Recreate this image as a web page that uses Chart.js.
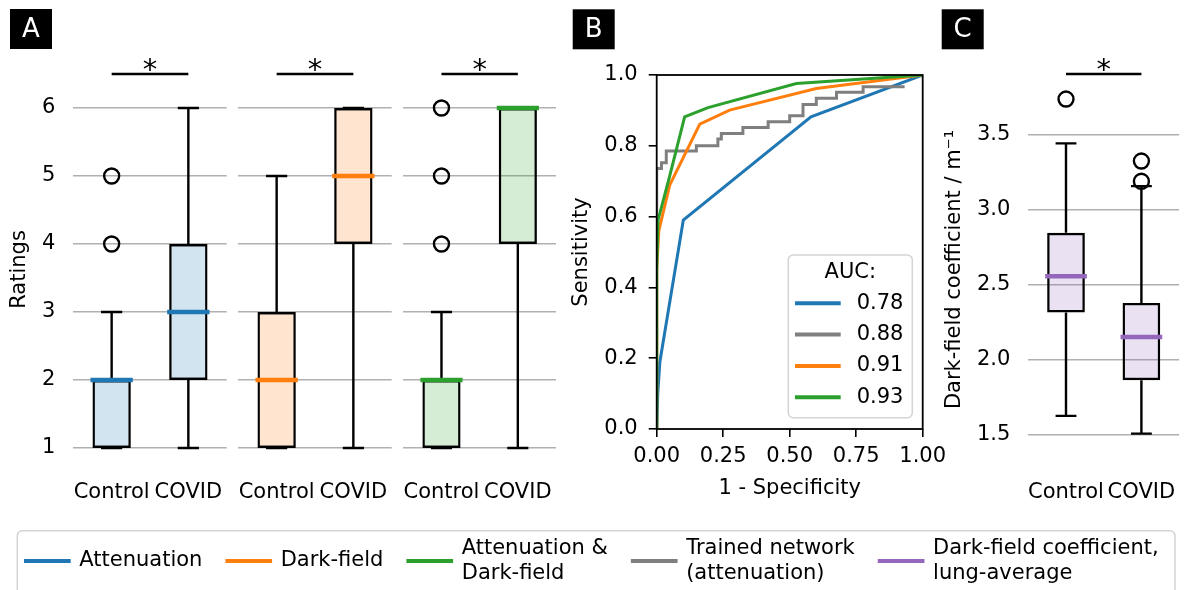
<!DOCTYPE html>
<html>
<head>
<meta charset="utf-8">
<script src="https://cdn.jsdelivr.net/npm/chart.js@4.4.1/dist/chart.umd.min.js"></script>
<style>
  html, body { margin: 0; padding: 0; background: #fff; }
  #wrap { position: relative; width: 1189px; height: 590px; overflow: hidden; }
  #wrap canvas { position: absolute; left: 0; top: 0; }
</style>
</head>
<body>
<div id="wrap">
  <canvas id="a1" width="1189" height="590"></canvas>
  <canvas id="a2" width="1189" height="590"></canvas>
  <canvas id="a3" width="1189" height="590"></canvas>
  <canvas id="roc" width="1189" height="590"></canvas>
  <canvas id="coef" width="1189" height="590"></canvas>
</div>
<script>
const groups = ['Control', 'COVID'];
const ratingTicks = [1, 2, 3, 4, 5, 6];
const sigLabel = '*';

// ratings (panel A), per group [Control, COVID]
const attQ1 = [1, 2], attMed = [2, 3], attQ3 = [2, 4], attLo = [1, 1], attHi = [3, 6];
const attOut = [[4, 5], []];
const dfQ1 = [1, 4], dfMed = [2, 5], dfQ3 = [3, 6], dfLo = [1, 1], dfHi = [5, 6];
const dfOut = [[], []];
const bothQ1 = [1, 4], bothMed = [2, 6], bothQ3 = [2, 6], bothLo = [1, 1], bothHi = [3, 6];
const bothOut = [[4, 5, 6], []];

// dark-field coefficient (panel C)
const coefTicks = [1.5, 2.0, 2.5, 3.0, 3.5];
const coefQ1 = [2.316, 1.865], coefMed = [2.558, 2.153], coefQ3 = [2.847, 2.38];
const coefLo = [1.627, 1.509], coefHi = [3.443, 3.158];
const coefOut = [[3.738], [3.19, 3.325]];

// ROC curves (panel B)
const rocTicksX = [0, 0.25, 0.5, 0.75, 1];
const rocTicksY = [0, 0.2, 0.4, 0.6, 0.8, 1];
const attFpr = [0, 0.004, 0.012, 0.1, 0.58, 1];
const attTpr = [0, 0.1, 0.19, 0.59, 0.882, 1];
const netFpr = [0, 0, 0.018, 0.036, 0.149, 0.23, 0.243, 0.324, 0.419, 0.5, 0.55, 0.6, 0.676, 0.776, 0.932];
const netTpr = [0, 0.736, 0.752, 0.785, 0.8, 0.819, 0.835, 0.852, 0.868, 0.885, 0.917, 0.934, 0.951, 0.967, 0.967];
const dfFpr = [0, 0, 0.008, 0.049, 0.162, 0.274, 0.6, 1];
const dfTpr = [0, 0.45, 0.56, 0.689, 0.861, 0.901, 0.962, 1];
const bothFpr = [0, 0, 0.005, 0.049, 0.105, 0.193, 0.525, 1];
const bothTpr = [0, 0.45, 0.59, 0.715, 0.882, 0.908, 0.976, 1];
const aucLabels = ['0.78', '0.88', '0.91', '0.93'];

const legendLabels = [
  ['Attenuation'], ['Dark-field'], ['Attenuation &', 'Dark-field'],
  ['Trained network', '(attenuation)'], ['Dark-field coefficient,', 'lung-average']
];

const BLUE = '#1f77b4', ORANGE = '#ff7f0e', GREEN = '#2ca02c', GRAY = '#7f7f7f', PURPLE = '#9467bd';
const legendColors = [BLUE, ORANGE, GREEN, GRAY, PURPLE];
const FONT = '"DejaVu Sans", sans-serif';
const W = 1189, H = 590;
const LW = 2.4;

Chart.defaults.font.family = FONT;
Chart.defaults.font.size = 21;
Chart.defaults.color = '#000';
Chart.defaults.animation = false;
Chart.defaults.plugins.legend.display = false;
Chart.defaults.plugins.tooltip.enabled = false;

function tag(letter, x, y) {
  return {
    id: 'tag' + letter,
    afterDraw(chart) {
      const ctx = chart.ctx;
      ctx.save();
      ctx.fillStyle = '#000';
      ctx.fillRect(x, y, 42, 40);
      ctx.fillStyle = '#fff';
      ctx.font = '26px ' + FONT;
      ctx.textAlign = 'center';
      ctx.textBaseline = 'middle';
      ctx.fillText(letter, x + 21, y + 21);
      ctx.restore();
    }
  };
}

// whiskers, caps and medians on top of the floating-bar boxes
function boxParts(s) {
  return {
    id: 'boxParts',
    afterDatasetsDraw(chart) {
      const ctx = chart.ctx;
      const y = chart.scales.y;
      ctx.save();
      chart.getDatasetMeta(0).data.forEach((bar, i) => {
        const x = bar.x, w = bar.width;
        ctx.strokeStyle = '#000';
        ctx.lineWidth = LW;
        ctx.beginPath();
        ctx.moveTo(x, y.getPixelForValue(s.q1[i]));
        ctx.lineTo(x, y.getPixelForValue(s.lo[i]));
        ctx.moveTo(x, y.getPixelForValue(s.q3[i]));
        ctx.lineTo(x, y.getPixelForValue(s.hi[i]));
        [s.lo[i], s.hi[i]].forEach(v => {
          const py = y.getPixelForValue(v);
          ctx.moveTo(x - w / 4 - 1, py);
          ctx.lineTo(x + w / 4 + 1, py);
        });
        ctx.stroke();
        ctx.strokeStyle = s.color;
        ctx.lineWidth = 4.5;
        ctx.beginPath();
        const pm = y.getPixelForValue(s.med[i]);
        ctx.moveTo(x - w / 2 - 2, pm);
        ctx.lineTo(x + w / 2 + 2, pm);
        ctx.stroke();
      });
      ctx.restore();
    }
  };
}

const sigBar = {
  id: 'sigBar',
  afterDraw(chart) {
    const ctx = chart.ctx;
    const x = chart.scales.x;
    const x0 = x.getPixelForValue(0), x1 = x.getPixelForValue(1);
    const yb = chart.chartArea.top;
    ctx.save();
    ctx.strokeStyle = '#000';
    ctx.lineWidth = 2.5;
    ctx.beginPath();
    ctx.moveTo(x0, yb);
    ctx.lineTo(x1, yb);
    ctx.stroke();
    ctx.fillStyle = '#000';
    ctx.font = '29px ' + FONT;
    ctx.textAlign = 'center';
    ctx.textBaseline = 'alphabetic';
    ctx.fillText(sigLabel, (x0 + x1) / 2, yb + 5);
    ctx.restore();
  }
};

function boxChart(id, area, s, extra) {
  const xh = 45;
  return new Chart(document.getElementById(id), {
    type: 'bar',
    data: {
      labels: groups,
      datasets: [
        {
          data: groups.map((g, i) => [s.q1[i], s.q3[i]]),
          backgroundColor: s.fill, borderColor: '#000', borderWidth: LW, borderSkipped: false,
          inflateAmount: 0, barPercentage: 0.5, categoryPercentage: 1, order: 2
        },
        {
          type: 'line',
          data: s.out.flatMap((vals, i) => vals.map(v => ({ x: groups[i], y: v }))),
          showLine: false, pointRadius: 7.5, pointBorderWidth: LW,
          pointBorderColor: '#000', pointBackgroundColor: 'rgba(0,0,0,0)', order: 1
        }
      ]
    },
    options: {
      responsive: false,
      devicePixelRatio: 1,
      layout: { padding: { left: area.l - s.yw, right: W - area.r, top: area.t, bottom: H - area.b - xh } },
      scales: {
        x: {
          afterFit: sc => { sc.height = xh; sc.paddingLeft = 0; sc.paddingRight = 0; },
          grid: { display: false, drawTicks: false },
          border: { display: false },
          ticks: { padding: 15, maxRotation: 0, autoSkip: false }
        },
        y: {
          min: s.min, max: s.max,
          afterBuildTicks: sc => { sc.ticks = s.ticks.map(v => ({ value: v })); },
          afterFit: sc => { sc.width = s.yw; sc.paddingTop = 0; sc.paddingBottom = 0; },
          grid: { color: '#b0b0b0', lineWidth: 1.6, drawTicks: false },
          border: { display: false },
          ticks: { display: s.yw > 0, padding: 18, callback: s.fmt },
          title: { display: !!s.title, text: s.title, padding: { top: 3, bottom: 3 } }
        }
      }
    },
    plugins: [boxParts(s), sigBar].concat(extra || [])
  });
}

const fmtInt = v => String(v);
boxChart('a1', { l: 73.3, r: 226.7, t: 74, b: 465 }, {
  q1: attQ1, med: attMed, q3: attQ3, lo: attLo, hi: attHi, out: attOut,
  color: BLUE, fill: 'rgba(31,119,180,0.2)', min: 0.75, max: 6.5, ticks: ratingTicks,
  fmt: fmtInt, yw: 69.3, title: 'Ratings'
}, [tag('A', 10, 9)]);
boxChart('a2', { l: 238.3, r: 391.7, t: 74, b: 465 }, {
  q1: dfQ1, med: dfMed, q3: dfQ3, lo: dfLo, hi: dfHi, out: dfOut,
  color: ORANGE, fill: 'rgba(255,127,14,0.2)', min: 0.75, max: 6.5, ticks: ratingTicks,
  fmt: fmtInt, yw: 0, title: ''
});
boxChart('a3', { l: 403.3, r: 556, t: 74, b: 465 }, {
  q1: bothQ1, med: bothMed, q3: bothQ3, lo: bothLo, hi: bothHi, out: bothOut,
  color: GREEN, fill: 'rgba(44,160,44,0.2)', min: 0.75, max: 6.5, ticks: ratingTicks,
  fmt: fmtInt, yw: 0, title: ''
});

// bottom figure legend
const figureLegend = {
  id: 'figureLegend',
  afterDraw(chart) {
    const ctx = chart.ctx;
    ctx.save();
    ctx.fillStyle = 'rgba(255,255,255,0.8)';
    ctx.strokeStyle = '#d4d4d4';
    ctx.lineWidth = 1.5;
    ctx.beginPath();
    ctx.roundRect(17.3, 530.7, 1175 - 17.3, 80, 5);
    ctx.fill();
    ctx.stroke();
    ctx.font = '21px ' + FONT;
    ctx.textBaseline = 'middle';
    ctx.textAlign = 'left';
    const midY = 561, lh = 25;
    let x = 24;
    legendLabels.forEach((lines, i) => {
      ctx.strokeStyle = legendColors[i];
      ctx.lineWidth = 4;
      ctx.beginPath();
      ctx.moveTo(x, midY);
      ctx.lineTo(x + 46.7, midY);
      ctx.stroke();
      const tx = x + 55.3;
      ctx.fillStyle = '#000';
      let wmax = 0;
      lines.forEach((t, j) => {
        ctx.fillText(t, tx, midY + (j - (lines.length - 1) / 2) * lh);
        wmax = Math.max(wmax, ctx.measureText(t).width);
      });
      x = tx + wmax + 23;
    });
    ctx.restore();
  }
};

boxChart('coef', { l: 1028.3, r: 1182.7, t: 74, b: 465 }, {
  q1: coefQ1, med: coefMed, q3: coefQ3, lo: coefLo, hi: coefHi, out: coefOut,
  color: PURPLE, fill: 'rgba(148,103,189,0.2)', min: 1.3, max: 3.905, ticks: coefTicks,
  fmt: v => v.toFixed(1), yw: 89.3, title: 'Dark-field coefficient / m⁻¹'
}, [tag('C', 941.7, 9.3), figureLegend]);

// panel B
const rocFrame = {
  id: 'rocFrame',
  afterDatasetsDraw(chart) {
    const { ctx, chartArea: a } = chart;
    ctx.save();
    ctx.strokeStyle = '#000';
    ctx.lineWidth = 1.8;
    ctx.strokeRect(a.left, a.top, a.right - a.left, a.bottom - a.top);
    ctx.restore();
  }
};

const aucLegend = {
  id: 'aucLegend',
  afterDraw(chart) {
    const { ctx, chartArea: a } = chart;
    const right = a.right - 10.4, bottom = a.bottom - 11.3;
    const left = right - 124, top = bottom - 162.7;
    ctx.save();
    ctx.fillStyle = 'rgba(255,255,255,0.8)';
    ctx.strokeStyle = '#d4d4d4';
    ctx.lineWidth = 1.5;
    ctx.beginPath();
    ctx.roundRect(left, top, right - left, bottom - top, 5);
    ctx.fill();
    ctx.stroke();
    ctx.fillStyle = '#000';
    ctx.font = '21px ' + FONT;
    ctx.textBaseline = 'middle';
    ctx.textAlign = 'center';
    ctx.fillText('AUC:', (left + right) / 2, top + 18);
    ctx.textAlign = 'left';
    chart.data.datasets.forEach((ds, i) => {
      const yy = top + 48.3 + i * 31.3;
      ctx.strokeStyle = ds.borderColor;
      ctx.lineWidth = 4;
      ctx.beginPath();
      ctx.moveTo(left + 6.7, yy);
      ctx.lineTo(left + 52.4, yy);
      ctx.stroke();
      ctx.fillText(aucLabels[i], left + 68.4, yy);
    });
    ctx.restore();
  }
};

function rocSet(fpr, tpr, color, order, stepped) {
  return {
    data: fpr.map((x, i) => ({ x: x, y: tpr[i] })),
    borderColor: color, borderWidth: 3, pointRadius: 0, tension: 0,
    stepped: stepped, order: order, fill: false
  };
}

const rocArea = { l: 656.7, r: 922.7, t: 75, b: 429 };
const rocYW = 90.5, rocXH = 75;
new Chart(document.getElementById('roc'), {
  type: 'line',
  data: {
    datasets: [
      rocSet(attFpr, attTpr, BLUE, 3, false),
      rocSet(netFpr, netTpr, GRAY, 2, true),
      rocSet(dfFpr, dfTpr, ORANGE, 1, false),
      rocSet(bothFpr, bothTpr, GREEN, 0, false)
    ]
  },
  options: {
    responsive: false,
    devicePixelRatio: 1,
    layout: { padding: { left: rocArea.l - rocYW, right: W - rocArea.r, top: rocArea.t, bottom: H - rocArea.b - rocXH } },
    scales: {
      x: {
        type: 'linear', min: 0, max: 1,
        afterBuildTicks: sc => { sc.ticks = rocTicksX.map(v => ({ value: v })); },
        afterFit: sc => { sc.height = rocXH; sc.paddingLeft = 0; sc.paddingRight = 0; },
        grid: { drawOnChartArea: false, drawTicks: true, tickLength: 8, color: '#000', lineWidth: 1.6 },
        border: { display: false },
        ticks: { padding: 7, maxRotation: 0, callback: v => v.toFixed(2) },
        title: { display: true, text: '1 - Specificity', padding: { top: 3, bottom: 3 } }
      },
      y: {
        min: 0, max: 1,
        afterBuildTicks: sc => { sc.ticks = rocTicksY.map(v => ({ value: v })); },
        afterFit: sc => { sc.width = rocYW; sc.paddingTop = 0; sc.paddingBottom = 0; },
        grid: { drawOnChartArea: false, drawTicks: true, tickLength: 8, color: '#000', lineWidth: 1.6 },
        border: { display: false },
        ticks: { padding: 11, callback: v => v.toFixed(1) },
        title: { display: true, text: 'Sensitivity', padding: { top: 3, bottom: 3 } }
      }
    }
  },
  plugins: [rocFrame, aucLegend, tag('B', 572.7, 9.3)]
});
</script>
</body>
</html>
